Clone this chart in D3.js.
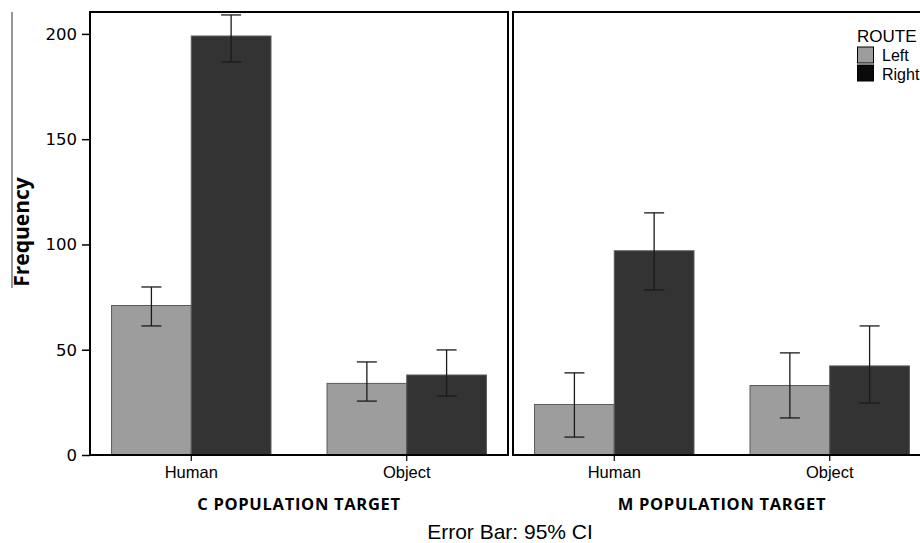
<!doctype html>
<html lang="en">
    <head>
        <meta charset="utf-8">
        <title>Frequency by route</title>
        <style>
            body { margin: 0; background: #fff; }
            svg { display: block; }
        </style>
    </head>
    <body>
        <svg></svg>
        <script src="https://d3js.org/d3.v7.min.js"></script>
        <script>
            //Chart data
            var panels = ["C POPULATION TARGET", "M POPULATION TARGET"];
            var targets = ["Human", "Object"];
            var routes = ["Left", "Right"];
            //values[panel][target] = [Left, Right]
            var values = [[[71, 199], [34, 38]], [[24, 97], [33, 42.3]]];
            var lowCI = [[[61.3, 186.7], [25.6, 28]], [[8.5, 78.4], [17.6, 24.7]]];
            var highCI = [[[79.8, 209], [44.2, 49.9]], [[39, 115], [48.5, 61.3]]];
            var yTicks = [0, 50, 100, 150, 200];

            //Size of the window and of the plot boxes
            var svgWidth = 920;
            var svgHeight = 543;
            var panelLeft = [90, 513];
            var panelWidth = 418;
            var plotTop = 12;
            var plotBottom = 455;
            var routeColors = {"Left": "#9d9d9d", "Right": "#333333"};

            var svg = d3.select("svg")
                .attr("width", svgWidth)
                .attr("height", svgHeight);

            var y = d3.scaleLinear().domain([0, 210.4]).range([plotBottom, plotTop]);

            //Y axis on the left panel
            var yAxis = svg.append("g")
                .attr("transform", "translate(" + panelLeft[0] + ",0)")
                .call(d3.axisLeft(y).tickValues(yTicks).tickSize(8).tickPadding(5));
            yAxis.select(".domain").remove();
            yAxis.selectAll("line").attr("stroke", "#000").attr("stroke-width", 1.5);
            yAxis.selectAll("text")
                .attr("font-family", "DejaVu Sans, sans-serif")
                .attr("font-size", 16.5)
                .attr("fill", "#000");

            //Draw both panels
            panels.forEach(function(title, p){
                var x0 = d3.scaleBand()
                    .domain(targets)
                    .range([panelLeft[p], panelLeft[p] + panelWidth])
                    .paddingInner(0.26)
                    .paddingOuter(0.1);
                var x1 = d3.scaleBand()
                    .domain(routes)
                    .range([0, x0.bandwidth()]);

                var g = svg.append("g");

                targets.forEach(function(t, ti){
                    var group = g.append("g")
                        .attr("transform", "translate(" + x0(t) + ",0)");
                    routes.forEach(function(r, ri){
                        group.append("rect")
                            .attr("x", x1(r))
                            .attr("y", y(values[p][ti][ri]))
                            .attr("width", x1.bandwidth())
                            .attr("height", y(0) - y(values[p][ti][ri]))
                            .attr("fill", routeColors[r])
                            .attr("stroke", "#5a5a5a")
                            .attr("stroke-width", 1);
                    });
                    //Error bars
                    routes.forEach(function(r, ri){
                        var cx = x1(r) + x1.bandwidth() / 2;
                        var lo = y(lowCI[p][ti][ri]);
                        var hi = y(highCI[p][ti][ri]);
                        var eb = group.append("g")
                            .attr("stroke", "#1a1a1a")
                            .attr("stroke-width", 1.3);
                        eb.append("line").attr("x1", cx).attr("x2", cx).attr("y1", lo).attr("y2", hi);
                        eb.append("line").attr("x1", cx - 10).attr("x2", cx + 10).attr("y1", lo).attr("y2", lo);
                        eb.append("line").attr("x1", cx - 10).attr("x2", cx + 10).attr("y1", hi).attr("y2", hi);
                    });
                });

                //Box round the panel
                g.append("rect")
                    .attr("x", panelLeft[p])
                    .attr("y", plotTop)
                    .attr("width", panelWidth)
                    .attr("height", plotBottom - plotTop)
                    .attr("fill", "none")
                    .attr("stroke", "#000")
                    .attr("stroke-width", 2);

                //X axis ticks at the middle of each group
                var xAxis = g.append("g")
                    .attr("transform", "translate(0," + plotBottom + ")")
                    .call(d3.axisBottom(x0).tickSize(6).tickPadding(5));
                xAxis.select(".domain").remove();
                xAxis.selectAll("line").attr("stroke", "#000").attr("stroke-width", 1.2);
                xAxis.selectAll("text")
                    .attr("font-family", "Liberation Sans, Arial, sans-serif")
                    .attr("font-size", 16.5)
                    .attr("fill", "#000");

                //Panel title
                g.append("text")
                    .attr("x", (x0("Human") + x0("Object") + x0.bandwidth()) / 2)
                    .attr("y", 510)
                    .attr("text-anchor", "middle")
                    .attr("font-family", "Open Sans, sans-serif")
                    .attr("font-weight", "bold")
                    .attr("font-size", 16.5)
                    .attr("letter-spacing", 0.7)
                    .text(title);
            });

            //Y axis title with its odd line
            svg.append("line")
                .attr("x1", 12).attr("x2", 12)
                .attr("y1", 12).attr("y2", 288)
                .attr("stroke", "#333").attr("stroke-width", 1);
            svg.append("text")
                .attr("transform", "translate(29,232) rotate(-90)")
                .attr("text-anchor", "middle")
                .attr("font-family", "Open Sans, sans-serif")
                .attr("font-weight", "bold")
                .attr("font-size", 21)
                .text("Frequency");

            //Footer
            svg.append("text")
                .attr("x", 510)
                .attr("y", 539)
                .attr("text-anchor", "middle")
                .attr("font-family", "Liberation Sans, Arial, sans-serif")
                .attr("font-size", 21)
                .text("Error Bar: 95% CI");

            //Legend
            var legend = svg.append("g").attr("transform", "translate(857,0)");
            legend.append("text")
                .attr("x", 0).attr("y", 42)
                .attr("font-family", "Liberation Sans, Arial, sans-serif")
                .attr("font-size", 17)
                .text("ROUTE");
            var legendColors = {"Left": "#9d9d9d", "Right": "#0a0a0a"};
            routes.forEach(function(r, i){
                legend.append("rect")
                    .attr("x", 0.5).attr("y", 47 + i * 18)
                    .attr("width", 16).attr("height", 16)
                    .attr("fill", legendColors[r])
                    .attr("stroke", "#000").attr("stroke-width", 1);
                legend.append("text")
                    .attr("x", 25).attr("y", 61 + i * 19)
                    .attr("font-family", "Liberation Sans, Arial, sans-serif")
                    .attr("font-size", 16)
                    .text(r);
            });
        </script>
    </body>
</html>
